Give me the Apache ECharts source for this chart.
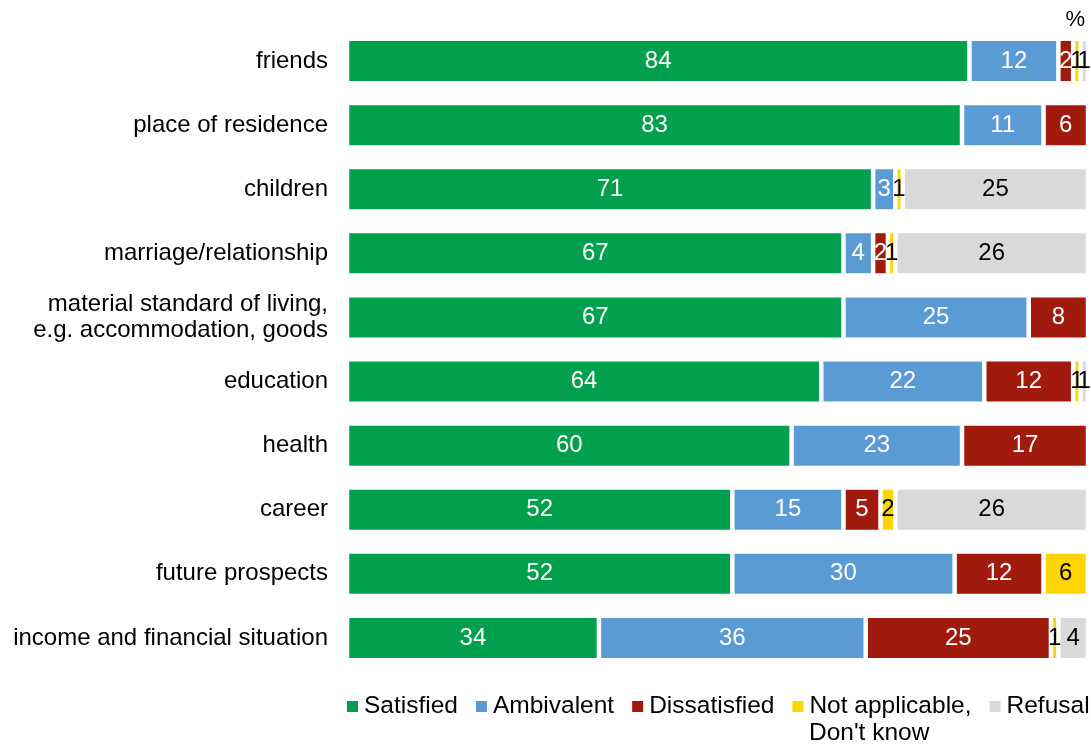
<!DOCTYPE html>
<html>
<head>
<meta charset="utf-8">
<script src="https://cdn.jsdelivr.net/npm/echarts@6/dist/echarts.min.js"></script>
<style>html,body{margin:0;padding:0;background:#fff}#c{width:1091px;height:744px}</style>
</head>
<body>
<div id="c"></div>
<script>
const categories = ["friends","place of residence","children","marriage/relationship","material standard of living,\ne.g. accommodation, goods","education","health","career","future prospects","income and financial situation"];
const satisfied    = [84,83,71,67,67,64,60,52,52,34];
const ambivalent   = [12,11,3,4,25,22,23,15,30,36];
const dissatisfied = [2,6,0,2,8,12,17,5,12,25];
const notApplicable= [1,0,1,1,0,1,0,2,6,1];
const refusal      = [1,0,25,26,0,1,0,26,0,4];
const seriesNames = ["Satisfied","Ambivalent","Dissatisfied","Not applicable, Don't know","Refusal"];
const legendLabels = ["Satisfied","Ambivalent","Dissatisfied","Not applicable,","Refusal"];
const colors = ["#00A04F","#5B9BD5","#A11A0E","#FFD500","#D9D9D9"];
const labelColors = ["#fff","#fff","#fff","#000","#000"];
const allData = [satisfied, ambivalent, dissatisfied, notApplicable, refusal];

const chart = echarts.init(document.getElementById('c'));
const FONT = 'Liberation Sans, Arial, sans-serif';
chart.setOption({
  animation:false,
  textStyle:{fontFamily:FONT},
  grid:{left:347,right:3,top:29,bottom:74,containLabel:false},
  xAxis:{type:'value',min:0,max:100,show:false},
  yAxis:{type:'category',data:categories,inverse:true,
    axisLine:{show:false},axisTick:{show:false},
    axisLabel:{color:'#000',fontSize:24,margin:19,lineHeight:26,fontFamily:FONT}},
  legend:{left:345,top:694,width:746,padding:0,itemWidth:13,itemHeight:13,itemGap:16,
    icon:'rect',
    textStyle:{fontSize:24.5,color:'#000',fontFamily:FONT},
    formatter:n=>legendLabels[seriesNames.indexOf(n)],
    data:seriesNames
  },
  graphic:[
    {type:'text',right:6,top:9,style:{text:'%',fontSize:22,fill:'#000',fontFamily:FONT}},
    {type:'text',left:809,top:721,style:{text:"Don't know",fontSize:24.5,fill:'#000',fontFamily:FONT}}
  ],
  series: allData.map((d,i)=>({
    name:seriesNames[i],type:'bar',stack:'total',data:d,barWidth:44.5,
    itemStyle:{color:colors[i],borderColor:'#fff',borderWidth:2.25},
    label:{show:true,position:'inside',color:labelColors[i],fontSize:24,fontFamily:FONT,
      formatter:p=> p.value===0?'':String(p.value)}
  }))
});
</script>
</body>
</html>
